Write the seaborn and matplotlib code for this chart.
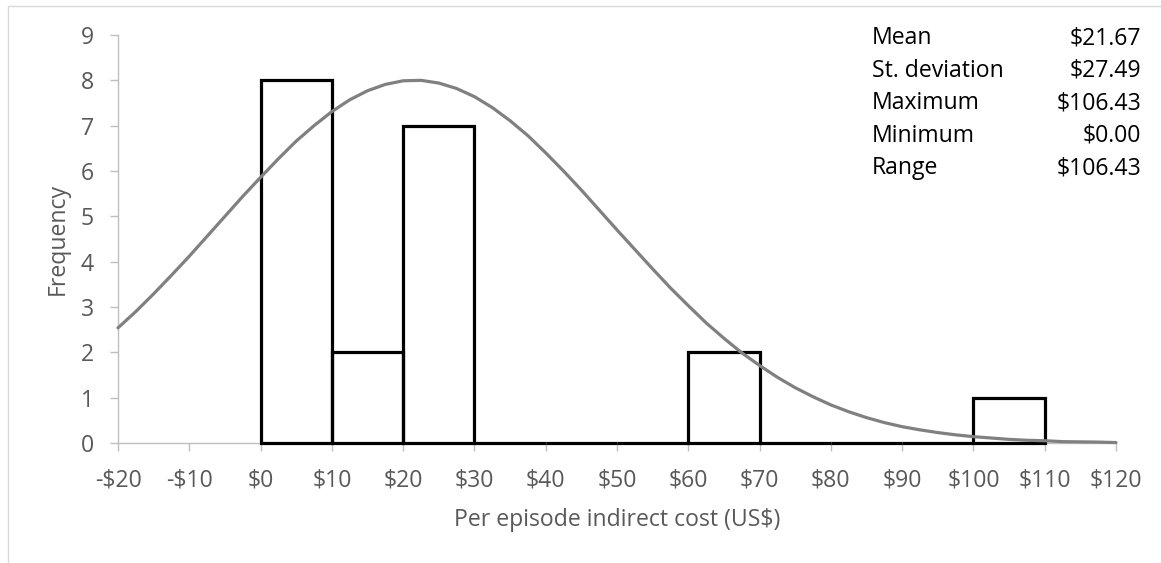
import matplotlib
matplotlib.use("Agg")
import matplotlib.pyplot as plt
from matplotlib.patches import Rectangle
from matplotlib.ticker import FixedLocator, FixedFormatter
import seaborn as sns

# ---- data ----
bin_centers = [5, 15, 25, 35, 45, 55, 65, 75, 85, 95, 105]
counts = [8, 2, 7, 0, 0, 0, 2, 0, 0, 0, 1]
bin_edges = [0, 10, 20, 30, 40, 50, 60, 70, 80, 90, 100, 110]

curve_x = [-20, -17.5, -15, -12.5, -10, -7.5, -5, -2.5, 0, 2.5, 5, 7.5,
           10, 12.5, 15, 17.5, 20, 22.5, 25, 27.5, 30, 32.5, 35, 37.5,
           40, 42.5, 45, 47.5, 50, 52.5, 55, 57.5, 60, 62.5, 65, 67.5,
           70, 72.5, 75, 77.5, 80, 82.5, 85, 87.5, 90, 92.5, 95, 97.5,
           100, 102.5, 105, 107.5, 110, 112.5, 115, 117.5, 120]
curve_y = [2.54, 2.90, 3.29, 3.70, 4.12, 4.56, 5.00, 5.44, 5.86, 6.27,
           6.66, 7.00, 7.31, 7.57, 7.77, 7.91, 7.99, 8.00, 7.94, 7.82,
           7.64, 7.40, 7.11, 6.78, 6.40, 6.00, 5.58, 5.14, 4.70, 4.27,
           3.84, 3.42, 3.03, 2.65, 2.31, 1.99, 1.71, 1.45, 1.22, 1.02,
           0.84, 0.69, 0.56, 0.45, 0.36, 0.29, 0.23, 0.18, 0.14, 0.11,
           0.08, 0.06, 0.05, 0.03, 0.025, 0.02, 0.01]

x_ticks = [-20, -10, 0, 10, 20, 30, 40, 50, 60, 70, 80, 90, 100, 110, 120]
x_tick_labels = ["-$20", "-$10", "$0", "$10", "$20", "$30", "$40", "$50",
                 "$60", "$70", "$80", "$90", "$100", "$110", "$120"]
y_ticks = [0, 1, 2, 3, 4, 5, 6, 7, 8, 9]

stat_names = ["Mean", "St. deviation", "Maximum", "Minimum", "Range"]
stat_values = ["$21.67", "$27.49", "$106.43", "$0.00", "$106.43"]

x_label = "Per episode indirect cost (US$)"
y_label = "Frequency"

# ---- style ----
sns.set_theme(style="white")
plt.rcParams["font.family"] = ["Open Sans", "DejaVu Sans"]
FS = 16.6

W, H = 1161, 563
fig = plt.figure(figsize=(W / 100, H / 100), dpi=100)
ax = fig.add_axes([118 / W, 1 - 443 / H, (1116 - 118) / W, (443 - 35) / H])

sns.histplot(x=bin_centers, weights=counts, bins=bin_edges, fill=False,
             element="bars", color="black", linewidth=2.3, ax=ax,
             zorder=3, clip_on=False)
for p in ax.patches:
    p.set_edgecolor("black")
    p.set_clip_on(False)

sns.lineplot(x=curve_x, y=curve_y, color="#808080", linewidth=2.3, ax=ax,
             zorder=4, clip_on=False, sort=False)

ax.set_xlim(-20, 120)
ax.set_ylim(0, 9)
ax.xaxis.set_major_locator(FixedLocator(x_ticks))
ax.xaxis.set_major_formatter(FixedFormatter(x_tick_labels))
ax.set_yticks(y_ticks)

for s in ["top", "right"]:
    ax.spines[s].set_visible(False)
for s in ["left", "bottom"]:
    ax.spines[s].set_color("#bfbfbf")
    ax.spines[s].set_linewidth(1.0)

ax.tick_params(axis="both", which="major", colors="#bfbfbf", length=5.5,
               width=1.0, direction="out", labelcolor="#595959",
               labelsize=FS)
ax.tick_params(axis="y", left=True, pad=12)
ax.tick_params(axis="x", bottom=True, pad=13)

ax.set_xlabel(x_label, fontsize=FS, color="#595959", labelpad=11)
ax.set_ylabel(y_label, fontsize=FS, color="#595959", labelpad=8)

# stats table
baselines = [44.3, 76.8, 109.3, 141.8, 174.3]
for name, val, b in zip(stat_names, stat_values, baselines):
    fig.text(872 / W, 1 - b / H, name, ha="left", va="baseline",
             fontsize=FS, color="black")
    fig.text(1141 / W, 1 - b / H, val, ha="right", va="baseline",
             fontsize=FS, color="black")

# chart-area border
fig.patches.append(Rectangle((7.5 / W, -0.1), 1.2, 1 - 6.5 / H + 0.1,
                             transform=fig.transFigure, fill=False,
                             edgecolor="#d9d9d9", linewidth=1.0))

fig.savefig("out.png", dpi=100)
